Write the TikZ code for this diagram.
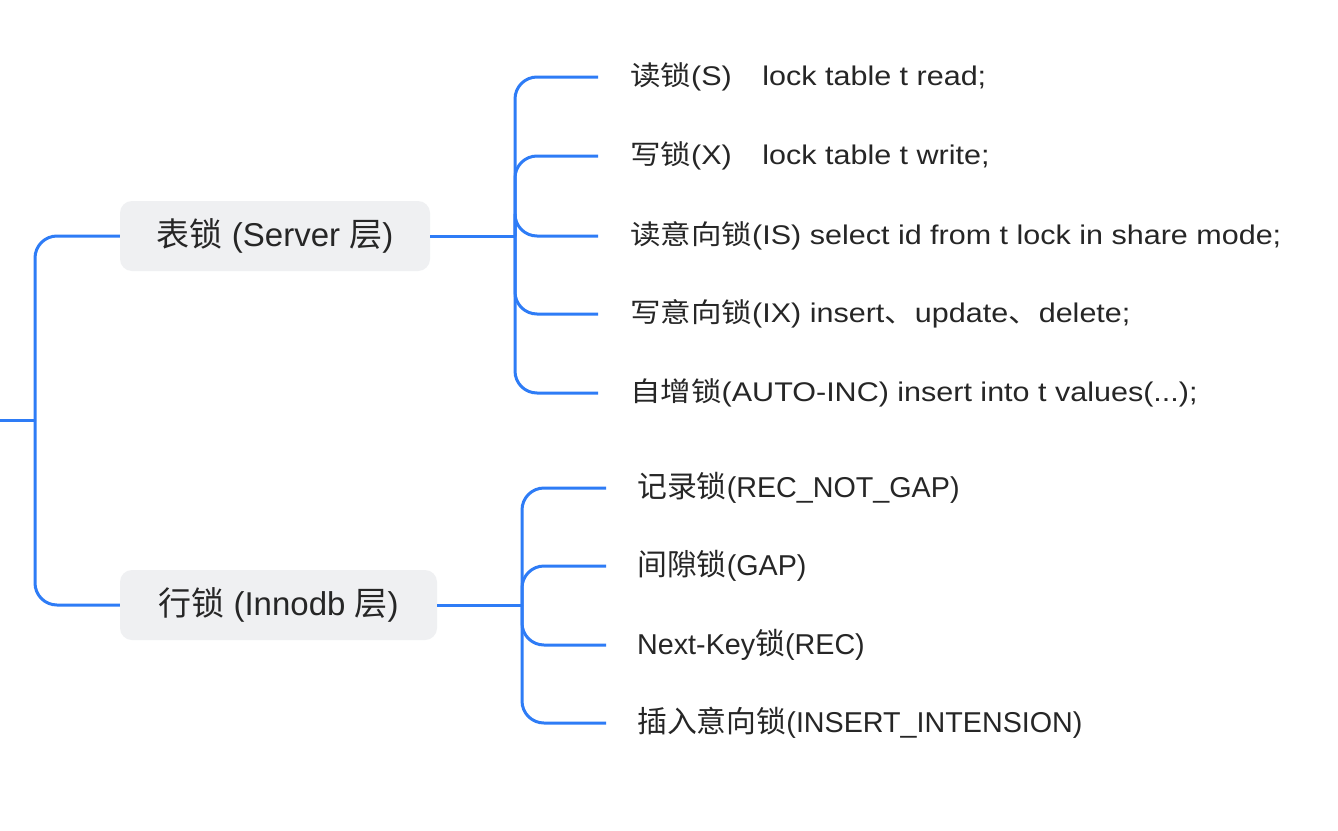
\documentclass[tikz,border=0pt]{standalone}
\usepackage{fontspec}
\setmainfont{Liberation Sans}
\newfontfamily\cjA{Noto Sans CJK SC}
\newfontfamily\cjB[Scale=1.04]{Noto Sans CJK SC}
\newcommand\ca[1]{{\cjA #1}}
\newcommand\cb[1]{{\cjB #1}}
\newcommand\wide[1]{\scalebox{1.13}[1]{#1}}
\definecolor{lineblue}{HTML}{2E7CF6}
\definecolor{boxgray}{HTML}{EFF0F2}
\definecolor{txt}{HTML}{262626}
\begin{document}
\begin{tikzpicture}[x=1pt,y=-1pt,
  conn/.style={draw=lineblue,line width=3pt,rounded corners=22pt},
  catbox/.style={fill=boxgray,rounded corners=12pt,minimum height=70pt,text=txt,font=\fontsize{33}{37}\selectfont,inner sep=0pt},
  leafA/.style={anchor=west,inner xsep=32pt,inner ysep=0pt,text=txt,font=\fontsize{27}{31}\selectfont},
  leafB/.style={anchor=west,inner xsep=31pt,inner ysep=0pt,text=txt,font=\fontsize{28.7}{33}\selectfont}]
\useasboundingbox[fill=white] (0,0) rectangle (1338,830);
\coordinate (rootend) at (0,420);
\coordinate (rj) at (35,420);
\node[catbox,minimum width=310pt] (t) at (275,236) {\ca{表锁} (Server \ca{层})};
\node[catbox,minimum width=317pt] (r) at (278.5,605) {\ca{行锁} (Innodb \ca{层})};
\coordinate (tj) at (515,236);
\coordinate (rjj) at (522,605);
\node[leafA] (t1) at (598,77) {\wide{\makebox[117pt][l]{\ca{读锁}(S)}lock table t read;}};
\node[leafA] (t2) at (598,156) {\wide{\makebox[117pt][l]{\ca{写锁}(X)}lock table t write;}};
\node[leafA] (t3) at (598,236) {\wide{\ca{读意向锁}(IS) select id from t lock in share mode;}};
\node[leafA] (t4) at (598,314) {\wide{\ca{写意向锁}(IX) insert\ca{、}update\ca{、}delete;}};
\node[leafA] (t5) at (598,393) {\wide{\ca{自增锁}(AUTO-INC) insert into t values(...);}};
\node[leafB] (r1) at (606,488) {\cb{记录锁}(REC\_NOT\_GAP)};
\node[leafB] (r2) at (606,566) {\cb{间隙锁}(GAP)};
\node[leafB] (r3) at (606,645) {Next-Key\cb{锁}(REC)};
\node[leafB] (r4) at (606,723) {\cb{插入意向锁}(INSERT\_INTENSION)};
\draw[conn] (rootend) -- (rj);
\draw[conn] (rj) |- (t.west);
\draw[conn] (rj) |- (r.west);
\draw[conn] (t.east) -- (tj);
\foreach \n in {t1,t2,t3,t4,t5} \draw[conn] (tj) |- (\n.west);
\draw[conn] (r.east) -- (rjj);
\foreach \n in {r1,r2,r3,r4} \draw[conn] (rjj) |- (\n.west);
\end{tikzpicture}
\end{document}
